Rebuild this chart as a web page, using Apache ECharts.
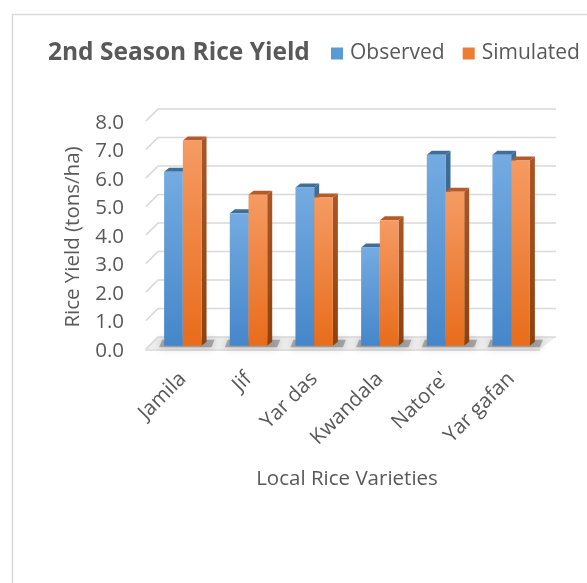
<!DOCTYPE html>
<html>
<head>
<meta charset="utf-8">
<script src="https://cdn.jsdelivr.net/npm/echarts@6/dist/echarts.min.js"></script>
<style>
  html, body { margin: 0; padding: 0; background: #ffffff; }
  #chart { width: 587px; height: 583px; }
</style>
</head>
<body>
<div id="chart"></div>
<script>
// Rice varieties and their 2nd-season yields (tons/ha)
const varieties = ['Jamila', 'Jif', 'Yar das', 'Kwandala', "Natore'", 'Yar gafan'];
const observed  = [6.1, 4.65, 5.55, 3.45, 6.7, 6.7];
const simulated = [7.2, 5.3, 5.2, 4.4, 5.4, 6.5];
const yTicks = [0, 1, 2, 3, 4, 5, 6, 7, 8];

const TEXT = '#595959';
const FONT = 'Open Sans';

// pseudo-3D depth offsets (pixels) relative to the bar plane
const FRONT = [-4, 3.3];
const BACK = [8, -8.7];
const BAR_DEPTH = [5, -4];
const BAR_FRAC = 0.285;

const grad = (a, b) => new echarts.graphic.LinearGradient(0, 0, 0, 1, [
  { offset: 0, color: a }, { offset: 1, color: b }
]);

const palette = {
  Observed:  { front: ['#74abe1', '#4586ca'], top: '#3f6e9b', side: ['#3f6d99', '#2f5a85'] },
  Simulated: { front: ['#f59b63', '#e86c1b'], top: '#b65b28', side: ['#aa5626', '#8c420f'] }
};

// floor slab under the bars
function renderFloor(params, api) {
  const cs = params.coordSys;
  const y = api.coord([0, 0])[1];
  const l = cs.x, r = cs.x + cs.width;
  return {
    type: 'group',
    children: [
      { type: 'polygon',
        shape: { points: [[l - 5, y + FRONT[1]], [r - 4, y + FRONT[1]], [r + 12, y + BACK[1]], [l + 7, y + BACK[1]]] },
        style: { fill: '#eeeeee' } },
      { type: 'line',
        shape: { x1: l - 5, y1: y + FRONT[1] + 1, x2: r - 4, y2: y + FRONT[1] + 1 },
        style: { stroke: '#d6d6d6', lineWidth: 1.6 } }
    ]
  };
}

// back-wall gridlines with their side-wall diagonals
function renderWall(params, api) {
  const cs = params.coordSys;
  const y = api.coord([0, api.value(1)])[1];
  return {
    type: 'polyline',
    shape: { points: [
      [cs.x + FRONT[0], y + FRONT[1]],
      [cs.x + BACK[0], y + BACK[1]],
      [cs.x + cs.width + 12, y + BACK[1]]
    ] },
    style: { stroke: '#d9d9d9', lineWidth: 1.7, fill: null }
  };
}

// soft shadow on the floor around each pair of bars
function renderShadow(params, api) {
  const p = api.coord([api.value(0), 0]);
  const w = api.size([1, 0])[0] * BAR_FRAC;
  const x0 = p[0] - w, x1 = p[0] + w + BAR_DEPTH[0];
  const y = p[1];
  return {
    type: 'polygon',
    shape: { points: [[x0 - 5, y + 1.5], [x1 + 5, y + 1.5], [x1 + 8, y + BAR_DEPTH[1] - 2], [x0 - 2, y + BAR_DEPTH[1] - 2]] },
    style: { fill: 'rgba(90,90,90,0.45)', shadowBlur: 8, shadowColor: 'rgba(0,0,0,0.5)' }
  };
}

function barRenderer(side, colors) {
  return function (params, api) {
    const i = api.value(0);
    const base = api.coord([i, 0]);
    const top = api.coord([i, api.value(1)]);
    const w = api.size([1, 0])[0] * BAR_FRAC;
    const x0 = side < 0 ? base[0] - w : base[0];
    const x1 = x0 + w;
    const [dx, dy] = BAR_DEPTH;
    const yt = top[1], yb = base[1];
    return {
      type: 'group',
      children: [
        { type: 'polygon',
          shape: { points: [[x1, yt], [x1 + dx, yt + dy], [x1 + dx, yb + dy], [x1, yb]] },
          style: { fill: grad(colors.side[0], colors.side[1]) } },
        { type: 'polygon',
          shape: { points: [[x0, yt], [x1, yt], [x1 + dx, yt + dy], [x0 + dx, yt + dy]] },
          style: { fill: colors.top } },
        { type: 'rect',
          shape: { x: x0, y: yt, width: w, height: yb - yt },
          style: { fill: grad(colors.front[0], colors.front[1]) } }
      ]
    };
  };
}

const chart = echarts.init(document.getElementById('chart'));

const option = {
  animation: false,
  backgroundColor: '#ffffff',
  textStyle: { fontFamily: FONT },
  title: {
    text: '2nd Season Rice Yield',
    left: 48, top: 41, padding: 0,
    textStyle: { fontFamily: FONT, fontSize: 24.5, fontWeight: 'bold', color: TEXT }
  },
  legend: {
    data: ['Observed', 'Simulated'],
    left: 331, top: 43, padding: 0,
    icon: 'rect', itemWidth: 12, itemHeight: 12, itemGap: 18,
    textStyle: { fontFamily: FONT, fontSize: 21, color: TEXT, padding: [0, 0, 0, 2] }
  },
  graphic: [{
    type: 'rect', silent: true, z: -10,
    shape: { x: 12.5, y: 14.5, width: 640, height: 640 },
    style: { fill: null, stroke: '#d9d9d9', lineWidth: 1.5 }
  }],
  grid: [
    { left: 146, top: 123, width: 394, height: 228 },
    { left: 150, top: 117.7, width: 394, height: 228 }
  ],
  xAxis: [
    { gridIndex: 0, type: 'category', data: varieties, show: false },
    { gridIndex: 1, type: 'category', data: varieties,
      axisLine: { show: false }, axisTick: { show: false },
      axisLabel: { rotate: 45, margin: 30, fontSize: 20.5, color: TEXT, fontFamily: FONT, interval: 0 },
      name: 'Local Rice Varieties', nameLocation: 'middle', nameGap: 123,
      nameTextStyle: { fontSize: 20.5, color: TEXT, fontFamily: FONT } }
  ],
  yAxis: [
    { gridIndex: 0, type: 'value', min: yTicks[0], max: yTicks[yTicks.length - 1], interval: yTicks[1] - yTicks[0],
      axisLine: { show: false }, axisTick: { show: false }, splitLine: { show: false },
      axisLabel: { margin: 22, fontSize: 20.5, color: TEXT, fontFamily: FONT, formatter: v => v.toFixed(1) },
      name: 'Rice Yield (tons/ha)', nameLocation: 'middle', nameGap: 62,
      nameTextStyle: { fontSize: 20.5, color: TEXT, fontFamily: FONT } },
    { gridIndex: 1, type: 'value', min: yTicks[0], max: yTicks[yTicks.length - 1], show: false }
  ],
  series: [
    { type: 'custom', name: 'floor', xAxisIndex: 1, yAxisIndex: 1, silent: true,
      renderItem: renderFloor, data: [[0, 0]] },
    { type: 'custom', name: 'wall', xAxisIndex: 1, yAxisIndex: 1, silent: true,
      renderItem: renderWall, data: yTicks.map(v => [0, v]) },
    { type: 'custom', name: 'shadow', xAxisIndex: 1, yAxisIndex: 1, silent: true,
      renderItem: renderShadow, data: varieties.map((c, i) => [i, 0]) },
    { type: 'custom', name: 'Observed', xAxisIndex: 1, yAxisIndex: 1,
      itemStyle: { color: '#5b9bd5' },
      renderItem: barRenderer(-1, palette.Observed),
      data: observed.map((v, i) => [i, v]) },
    { type: 'custom', name: 'Simulated', xAxisIndex: 1, yAxisIndex: 1,
      itemStyle: { color: '#ed7d31' },
      renderItem: barRenderer(1, palette.Simulated),
      data: simulated.map((v, i) => [i, v]) }
  ]
};

chart.setOption(option);
</script>
</body>
</html>
